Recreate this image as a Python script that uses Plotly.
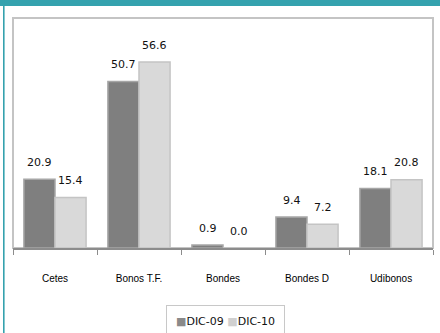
import plotly.graph_objects as go

categories = ["Cetes", "Bonos T.F.", "Bondes", "Bondes D", "Udibonos"]
dic09 = [20.9, 50.7, 0.9, 9.4, 18.1]
dic10 = [15.4, 56.6, 0.0, 7.2, 20.8]
series_names = ["DIC-09", "DIC-10"]

W, H = 440, 333
ML, MR, MT, MB = 13, 7, 18, 85
PW, PH = W - ML - MR, H - MT - MB

def px_x(x):
    return (x - ML) / PW

def px_y(y):
    return (H - MB - y) / PH

fig = go.Figure()
fig.add_trace(go.Bar(x=categories, y=dic09, name=series_names[0],
                     marker=dict(color="#7f7f7f", line=dict(color="#a6a6a6", width=1.5))))
fig.add_trace(go.Bar(x=categories, y=dic10, name=series_names[1],
                     marker=dict(color="#d9d9d9", line=dict(color="#c4c4c4", width=1.5))))

annots = []
for vals, shift in ((dic09, -15.5), (dic10, 15.5)):
    for c, v in zip(categories, vals):
        annots.append(dict(x=c, y=v, xref="x", yref="y", text=f"{v:.1f}",
                           showarrow=False, xshift=shift, yshift=17,
                           font=dict(family="DejaVu Sans", size=11, color="#111")))

annots.append(dict(
    x=px_x(225), y=px_y(305), xref="paper", yref="paper", xanchor="center", yanchor="top",
    text=f"<span style='color:#8a8a8a'>■</span>{series_names[0]} "
         f"<span style='color:#d0d0d0'>■</span>{series_names[1]}",
    showarrow=False, bordercolor="#c8c8c8", borderwidth=1, borderpad=9, bgcolor="white",
    font=dict(family="DejaVu Sans", size=11, color="#111")))

shapes = [
    # plot frame
    dict(type="rect", xref="paper", yref="paper", x0=0, x1=1, y0=0, y1=1,
         line=dict(color="#c4c4c4", width=2), layer="below"),
    # teal header bar
    dict(type="rect", xref="paper", yref="paper", x0=px_x(0), x1=px_x(W), y0=px_y(6), y1=px_y(-2),
         fillcolor="#34a2ae", line=dict(width=0)),
    # teal left line
    dict(type="rect", xref="paper", yref="paper", x0=px_x(3), x1=px_x(4.6), y0=px_y(H + 2), y1=px_y(0),
         fillcolor="#34a2ae", line=dict(width=0)),
]

fig.update_layout(
    width=W, height=H,
    margin=dict(l=ML, r=MR, t=MT, b=MB),
    paper_bgcolor="white", plot_bgcolor="white",
    barmode="group", bargap=0.26, bargroupgap=0,
    showlegend=False,
    annotations=annots, shapes=shapes,
    xaxis=dict(showline=True, linecolor="#8c8c8c", linewidth=2, ticks="outside",
               tickson="boundaries", ticklen=5, tickcolor="#8c8c8c", tickwidth=1,
               ticklabelstandoff=20, showgrid=False,
               tickfont=dict(family="Liberation Sans", size=10, color="#000")),
    yaxis=dict(range=[0, 70], visible=False, showgrid=False),
)

fig.write_html("out.html")
